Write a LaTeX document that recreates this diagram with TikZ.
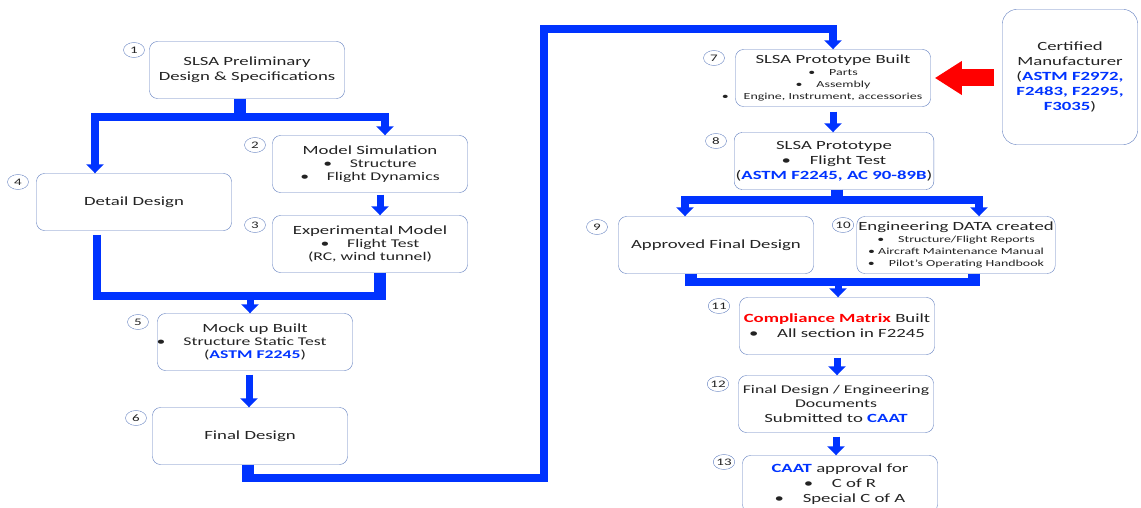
\documentclass[tikz,border=0pt]{standalone}
\usepackage{fontspec}
\setmainfont{Carlito}
\usetikzlibrary{arrows.meta,shapes.geometric}

\definecolor{flowblue}{RGB}{0,51,255}
\definecolor{boxline}{RGB}{95,125,190}
\definecolor{txtgray}{RGB}{35,35,35}
\newcommand{\bluebf}[1]{\textcolor{flowblue}{\bfseries #1}}
\newcommand{\midtxt}[1]{{\fontsize{11.8}{13}\selectfont #1}}
\newcommand{\smalltxt}[1]{{\fontsize{9.3}{11}\selectfont #1}}

\begin{document}
\begin{tikzpicture}[x=1pt, y=-1pt,
  stepbox/.style={draw=boxline, rounded corners=8pt, xscale=1.5, minimum width=130pt,
    minimum height=57pt, inner sep=1pt, align=center, text=txtgray,
    font=\fontsize{12.5}{15}\selectfont},
  num/.style={ellipse, draw=boxline, xscale=1.5, inner sep=0pt, minimum width=14pt,
    minimum height=15pt, text=txtgray, font=\fontsize{10}{10}\selectfont},
  flow/.style={draw=flowblue, line width=8pt},
  stub/.style={draw=flowblue, line width=12pt},
  tip/.style={-{Triangle[width=17pt,length=9pt]}}
]
  \useasboundingbox (0,0) rectangle (1141,508);

  \node[stepbox] (b1) at (247,70) {SLSA Preliminary\\Design \& Specifications};
  \node[stepbox] (b2) at (370,164) {Model Simulation\\[-2pt]\midtxt{\textbullet\quad Structure}\\[-2pt]
    \midtxt{\textbullet\quad Flight Dynamics}};
  \node[stepbox] (b3) at (370,244) {Experimental Model\\[-2pt]\midtxt{\textbullet\quad Flight Test}\\[-2pt]
    \midtxt{(RC, wind tunnel)}};
  \node[stepbox] (b4) at (134,202) {Detail Design};
  \node[stepbox] (b5) at (255,342) {Mock up Built\\[-2pt]
    \midtxt{\llap{\textbullet\hspace{12pt}}Structure Static Test}\\[-2pt]\midtxt{(\bluebf{ASTM F2245})}};
  \node[stepbox] (b6) at (250,436) {Final Design};
  \node[stepbox] (b7) at (833,78) {SLSA Prototype Built\\[-3pt]\smalltxt{\textbullet\quad Parts}\\[-3pt]
    \smalltxt{\textbullet\quad Assembly}\\[-3pt]
    \smalltxt{\llap{\textbullet\hspace{10pt}}Engine, Instrument, accessories}};
  \node[stepbox] (b8) at (834,161) {SLSA Prototype\\\textbullet\quad Flight Test\\
    (\bluebf{ASTM F2245, AC 90-89B})};
  \node[stepbox] (b9) at (716,245) {Approved Final Design};
  \node[stepbox] (b10) at (956,245) {Engineering DATA created\\[-3pt]
    \smalltxt{\textbullet\quad Structure/Flight Reports}\\[-3pt]\smalltxt{\textbullet\ Aircraft Maintenance Manual}\\[-3pt]
    \smalltxt{\textbullet\quad Pilot’s Operating Handbook}};
  \node[stepbox] (b11) at (837,326) {\textcolor{red}{\bfseries Compliance Matrix} Built\\
    \textbullet\quad All section in F2245};
  \node[stepbox] (b12) at (836,404) {\midtxt{Final Design / Engineering}\\[-1pt]\midtxt{Documents}\\
    Submitted to \bluebf{CAAT}};
  \node[stepbox] (b13) at (840,484) {\bluebf{CAAT} approval for\\\textbullet\quad C of R\\
    \textbullet\quad Special C of A};
  \node[stepbox, rounded corners=14pt, minimum width=90pt, minimum height=135pt] (cm)
    at (1070,77) {Certified\\Manufacturer\\(\bluebf{ASTM F2972,}\\\bluebf{F2483, F2295,}\\
    \bluebf{F3035})};

  \node[num] (n1) at (134,50) {1};
  \node[num] (n2) at (255,145) {2};
  \node[num] (n3) at (255,225) {3};
  \node[num] (n4) at (18,182) {4};
  \node[num] (n5) at (138,322) {5};
  \node[num] (n6) at (136,418) {6};
  \node[num] (n7) at (714,58) {7};
  \node[num] (n8) at (716,141) {8};
  \node[num] (n9) at (597,227) {9};
  \node[num] (n10) at (843,225) {10};
  \node[num] (n11) at (719,306) {11};
  \node[num] (n12) at (718,384) {12};
  \node[num] (n13) at (724,462) {13};

  \coordinate (j1) at (240,117.5);
  \coordinate (t4) at (95,0);
  \coordinate (t2) at (385,0);
  \draw[stub] (b1.south -| j1) -- ([yshift=-4pt]j1);
  \draw[flow,tip] (j1) -| (t4 |- b4.north);
  \draw[flow,tip] (j1) -| (t2 |- b2.north);

  \coordinate (c2) at (380,0);
  \draw[flow,tip,line width=7pt,shorten <=2pt] (c2 |- b2.south) -- (c2 |- b3.north);

  \coordinate (j2) at (250,296);
  \coordinate (c4) at (97,296);
  \coordinate (c3) at (380,296);
  \draw[flow,shorten <=4pt] (c4 |- b4.south) -- (c4) -- (c3);
  \draw[stub] (c3 |- b3.south) -- ([yshift=-4pt]c3);
  \draw[flow,tip,line width=7pt] (j2) -- (j2 |- b5.north);

  \coordinate (c5) at (249,0);
  \draw[flow,tip,line width=7pt,shorten <=4pt] (c5 |- b5.south) -- (c5 |- b6.north);

  \coordinate (j3) at (248,478);
  \coordinate (k1) at (544,29);
  \draw[stub] (b6.south -| j3) -- ([yshift=-4pt]j3);
  \draw[flow,tip] (j3) -| (k1) -| (b7.north);

  \draw[flow,tip,line width=7pt,shorten <=5pt] (b7.south) -- (b7.south |- b8.north);

  \coordinate (j4) at (837,200);
  \coordinate (t9) at (685,0);
  \coordinate (t10) at (979,0);
  \draw[stub] (b8.south -| j4) -- ([yshift=-4pt]j4);
  \draw[flow,tip] (j4) -| (t9 |- b9.north);
  \draw[flow,tip] (j4) -| (t10 |- b10.north);

  \coordinate (u9) at (691,282);
  \coordinate (u10) at (974,282);
  \coordinate (j5) at (838,282);
  \draw[stub] (u9 |- b9.south) -- ([yshift=-4pt]u9);
  \draw[stub] (u10 |- b10.south) -- ([yshift=-4pt]u10);
  \draw[flow] (u9) -- (u10);
  \draw[flow,tip,line width=7pt] (j5) -- (j5 |- b11.north);

  \draw[flow,tip,line width=7pt,shorten <=3pt] (b11.south) -- (b11.south |- b12.north);
  \draw[flow,tip,line width=7pt,shorten <=4pt] (b12.south) -- (b12.south |- b13.north);

  \draw[red, line width=17pt, -{Triangle[width=32pt,length=27pt]}, shorten <=8pt,
    shorten >=4pt] (cm.west |- b7.east) -- (b7.east);
\end{tikzpicture}
\end{document}
